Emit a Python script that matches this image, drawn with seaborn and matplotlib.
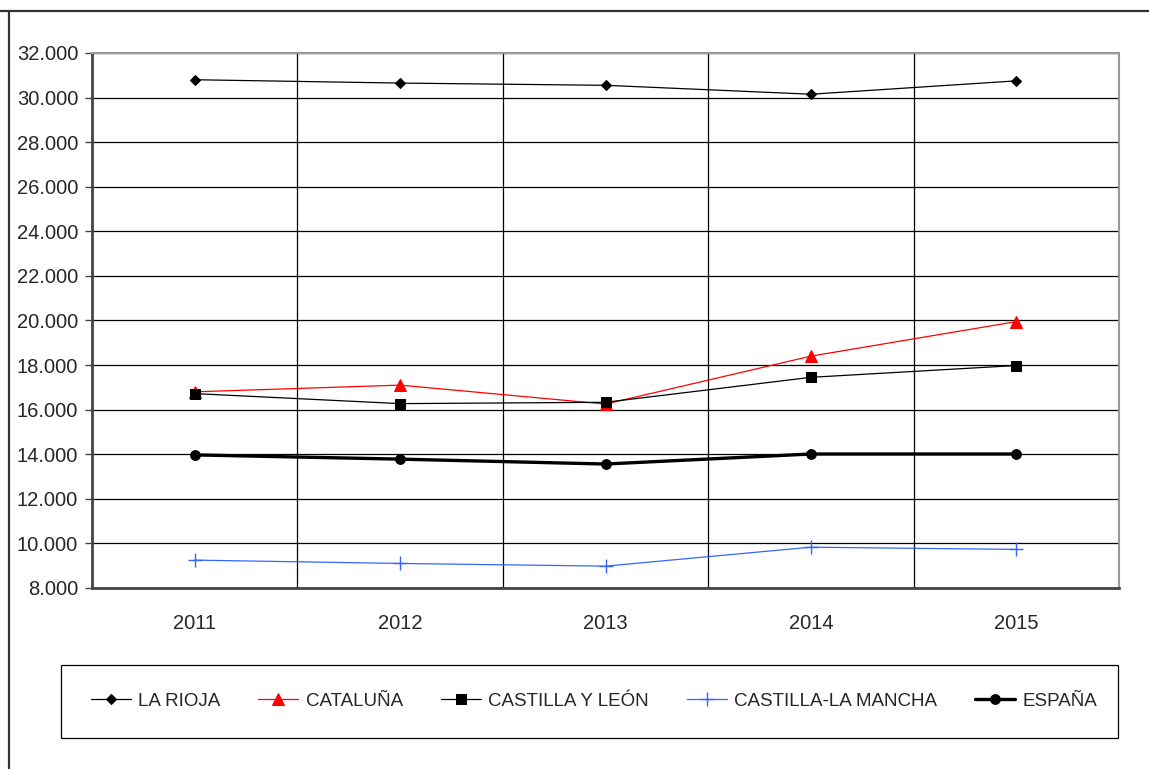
import pandas as pd
import matplotlib.pyplot as plt
import seaborn as sns
from matplotlib.lines import Line2D
from matplotlib.patches import Rectangle
from matplotlib.ticker import FuncFormatter, FixedLocator

# Datos
anios = ["2011", "2012", "2013", "2014", "2015"]
la_rioja = [30800, 30650, 30550, 30150, 30750]
cataluna = [16800, 17100, 16250, 18400, 19950]
castilla_leon = [16720, 16270, 16330, 17450, 17980]
castilla_mancha = [9250, 9100, 8980, 9830, 9730]
espana = [13970, 13780, 13560, 14010, 14010]

series = {
    "LA RIOJA": la_rioja,
    "CATALUÑA": cataluna,
    "CASTILLA Y LEÓN": castilla_leon,
    "CASTILLA-LA MANCHA": castilla_mancha,
    "ESPAÑA": espana,
}

estilos = {
    "LA RIOJA": dict(color="black", marker="D", markersize=5.5, linewidth=0.9),
    "CATALUÑA": dict(color="#FF0000", marker="^", markersize=8, linewidth=0.9),
    "CASTILLA Y LEÓN": dict(color="black", marker="s", markersize=6.5, linewidth=0.9),
    "CASTILLA-LA MANCHA": dict(color="#3366FF", marker="+", markersize=10, linewidth=0.9,
                               markeredgewidth=1.0),
    "ESPAÑA": dict(color="black", marker="o", markersize=7, linewidth=2.4),
}

filas = []
for nombre, valores in series.items():
    for i, v in enumerate(valores):
        filas.append({"serie": nombre, "x": i, "valor": v})
df = pd.DataFrame(filas)

sns.set_style("white")
plt.rcParams["font.family"] = ["Liberation Sans", "DejaVu Sans"]

fig = plt.figure(figsize=(11.49, 7.69), dpi=100)
ax = fig.add_axes([0.0801, 0.2354, 0.8938, 0.6957])

for nombre in series:
    sns.lineplot(data=df[df["serie"] == nombre], x="x", y="valor", ax=ax,
                 label=nombre, legend=False, markeredgecolor=estilos[nombre]["color"],
                 **estilos[nombre])

ax.set_xlim(-0.5, 4.5)
ax.set_ylim(8000, 32000)
ax.set_yticks(range(8000, 32001, 2000))
ax.yaxis.set_major_formatter(FuncFormatter(lambda v, p: f"{int(v):,}".replace(",", ".")))
ax.set_xticks(range(len(anios)))
ax.set_xticklabels(anios)
ax.xaxis.set_minor_locator(FixedLocator([0.5, 1.5, 2.5, 3.5]))
ax.set_xlabel("")
ax.set_ylabel("")

ax.grid(True, axis="y", which="major", color="black", linewidth=0.9)
ax.grid(True, axis="x", which="minor", color="black", linewidth=0.9)
ax.grid(False, axis="x", which="major")
ax.set_axisbelow(True)

ax.tick_params(axis="y", which="major", left=True, length=5, width=1, color="#444444",
               labelsize=14.5, pad=5)
ax.tick_params(axis="x", which="both", bottom=False, labelsize=14.5, pad=15)

for lado in ["left", "bottom"]:
    ax.spines[lado].set_color("#444444")
    ax.spines[lado].set_linewidth(2)
for lado in ["top", "right"]:
    ax.spines[lado].set_color("#999999")
    ax.spines[lado].set_linewidth(1.5)

# Caja de la leyenda
W, H = 1149, 769
fig.add_artist(Rectangle((61 / W, 1 - 738 / H), (1118 - 61) / W, (738 - 665) / H,
                         transform=fig.transFigure, fill=False, edgecolor="black",
                         linewidth=0.9))

handles, labels = ax.get_legend_handles_labels()
leg = fig.legend(handles, labels, loc="center", ncol=5,
                 bbox_to_anchor=(594 / W, 1 - 701 / H),
                 frameon=False, fontsize=13.5,
                 handlelength=2.15, handletextpad=0.4, columnspacing=2.0,
                 borderaxespad=0, borderpad=0)

# Marco exterior del gráfico original
fig.add_artist(Line2D([0, 1], [1 - 11 / H, 1 - 11 / H], transform=fig.transFigure,
                      color="#333333", linewidth=1.6))
fig.add_artist(Line2D([9 / W, 9 / W], [0, 1 - 11 / H], transform=fig.transFigure,
                      color="#333333", linewidth=1.6))

fig.savefig("out.png", dpi=100)
plt.close()
